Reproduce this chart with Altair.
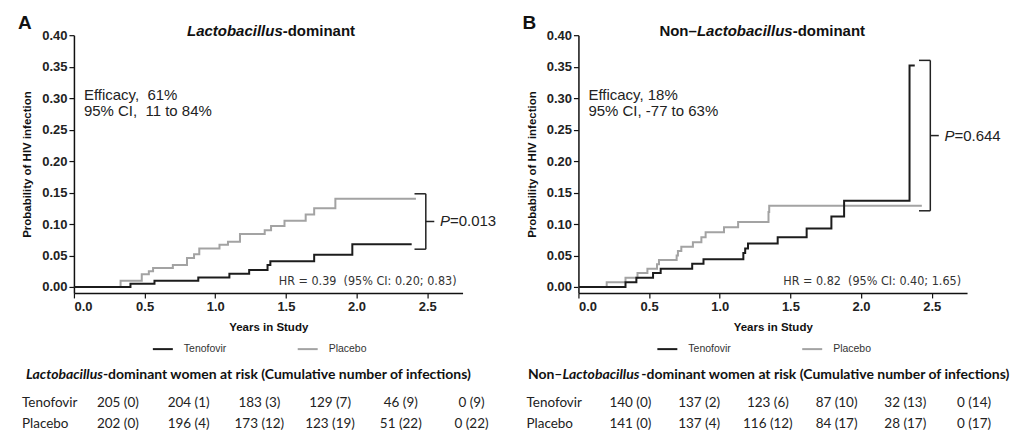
import altair as alt
import pandas as pd

# ---------------- data ----------------
ARMS = ["Tenofovir", "Placebo"]
X_TICKS = [0.0, 0.5, 1.0, 1.5, 2.0, 2.5]
Y_TICKS = [0.0, 0.05, 0.10, 0.15, 0.20, 0.25, 0.30, 0.35, 0.40]
TABLE_YEARS = [0.0, 0.5, 1.0, 1.5, 2.0, 2.5]

# Panel A: Lactobacillus-dominant (Kaplan-Meier steps)
A_TEN_T = [0, 0.40, 0.57, 0.88, 1.10, 1.24, 1.37, 1.39, 1.70, 1.97, 2.39]
A_TEN_P = [0, 0.005, 0.010, 0.015, 0.021, 0.027, 0.035, 0.041, 0.051, 0.068, 0.068]
A_PLA_T = [0, 0.33, 0.48, 0.53, 0.56, 0.70, 0.80, 0.85, 0.887, 1.03, 1.09, 1.175,
           1.35, 1.395, 1.49, 1.64, 1.70, 1.85, 2.42]
A_PLA_P = [0, 0.010, 0.020, 0.025, 0.030, 0.035, 0.046, 0.052, 0.061, 0.067, 0.072, 0.084,
           0.090, 0.097, 0.105, 0.115, 0.125, 0.140, 0.140]

# Panel B: Non-Lactobacillus-dominant
B_TEN_T = [0, 0.333, 0.41, 0.528, 0.582, 0.805, 0.885, 1.167, 1.18, 1.20, 1.41,
           1.615, 1.79, 1.88, 2.343, 2.38]
B_TEN_P = [0, 0.0074, 0.0147, 0.022, 0.029, 0.037, 0.044, 0.054, 0.061, 0.069, 0.079,
           0.093, 0.112, 0.137, 0.352, 0.352]
B_PLA_T = [0, 0.20, 0.333, 0.418, 0.488, 0.556, 0.57, 0.695, 0.704, 0.728, 0.81, 0.87,
           0.90, 1.03, 1.13, 1.345, 1.35, 2.43]
B_PLA_P = [0, 0.0074, 0.0147, 0.022, 0.029, 0.036, 0.043, 0.050, 0.057, 0.064, 0.071,
           0.079, 0.087, 0.095, 0.103, 0.119, 0.129, 0.129]

# Women at risk (cumulative infections)
A_TEN_N = [205, 204, 183, 129, 46, 0]
A_TEN_C = [0, 1, 3, 7, 9, 9]
A_PLA_N = [202, 196, 173, 123, 51, 0]
A_PLA_C = [0, 4, 12, 19, 22, 22]
B_TEN_N = [140, 137, 123, 87, 32, 0]
B_TEN_C = [0, 2, 6, 10, 13, 14]
B_PLA_N = [141, 137, 116, 84, 28, 0]
B_PLA_C = [0, 4, 12, 17, 17, 17]

NB = "\u00a0"
A_EFF = ["Efficacy," + NB + " 61%", "95% CI," + NB + " 11 to 84%"]
B_EFF = ["Efficacy, 18%", "95% CI, -77 to 63%"]
A_P = "=0.013"
B_P = "=0.644"
A_HR = "HR = 0.39 " + NB + "(95% CI: 0.20; 0.83)"
B_HR = "HR = 0.82 " + NB + "(95% CI: 0.40; 1.65)"

# ---------------- style ----------------
FONT = "Liberation Sans, Arial, sans-serif"
NARROW = "Liberation Sans Narrow, DejaVu Sans Condensed, sans-serif"
TFONT = "Lato, sans-serif"
W, H = 389, 258
DARK = "#1c1c1c"
GREY = "#a3a3a3"


def plot_panel(letter, title_parts, ten_t, ten_p, pla_t, pla_p, eff, p_rest, hr):
    ten = pd.DataFrame({"t": ten_t, "p": ten_p, "arm": "Tenofovir"})
    pla = pd.DataFrame({"t": pla_t, "p": pla_p, "arm": "Placebo"})
    x = alt.X("t:Q", scale=alt.Scale(domain=[0, 2.75], nice=False, zero=False),
              axis=alt.Axis(values=X_TICKS, format=".1f", title="Years in Study",
                            labelPadding=3, titlePadding=8, labelOverlap=False))
    y = alt.Y("p:Q", scale=alt.Scale(domain=[-0.0095, 0.40], nice=False, zero=False),
              axis=alt.Axis(values=Y_TICKS, format=".2f", title="Probability of HIV infection",
                            labelPadding=2, titlePadding=9, labelOverlap=False))
    color = alt.Color("arm:N", scale=alt.Scale(domain=ARMS, range=[DARK, GREY]),
                      legend=alt.Legend(orient="none", legendX=78, legendY=303,
                                        direction="horizontal", title=None,
                                        symbolType="stroke", symbolSize=400,
                                        symbolStrokeWidth=2, labelFont=FONT,
                                        labelFontSize=10.5, labelColor="#333",
                                        labelOffset=10, columnPadding=67))
    pla_line = alt.Chart(pla).mark_line(interpolate="step-after", strokeWidth=2).encode(x=x, y=y, color=color)
    ten_line = alt.Chart(ten).mark_line(interpolate="step-after", strokeWidth=2).encode(x=x, y=y, color=color)

    finals = [ten_p[-1], pla_p[-1]]
    yt = max(finals) + 0.008
    yb = min(finals) - 0.008
    ym = (yt + yb) / 2
    br = pd.DataFrame({
        "t": [2.49, 2.41, 2.41, 2.49],
        "t2": [2.49, 2.49, 2.49, 2.55],
        "p": [yb, yt, yb, ym],
        "p2": [yt, yt, yb, ym],
    })
    bracket = alt.Chart(br).mark_rule(color="#222", strokeWidth=1.5).encode(
        x=x, x2="t2:Q", y=y, y2="p2:Q")

    pdf = pd.DataFrame({"t": [2.59], "p": [ym]})
    p_it = alt.Chart(pdf).mark_text(align="left", baseline="middle", font=FONT, fontSize=15,
                                    fontStyle="italic", color="#222").encode(
        x=x, y=y, text=alt.value("P"))
    p_rg = alt.Chart(pdf).mark_text(align="left", baseline="middle", font=FONT, fontSize=15,
                                    dx=10, color="#222").encode(
        x=x, y=y, text=alt.value(p_rest))

    one = pd.DataFrame({"k": [0]})
    layers = [pla_line, ten_line, bracket, p_it, p_rg]
    # panel letter
    layers.append(alt.Chart(one).mark_text(align="left", baseline="alphabetic", font=FONT,
                                           fontSize=19, fontWeight="bold", color="#111").encode(
        x=alt.value(-56), y=alt.value(-6), text=alt.value(letter)))
    # panel title with mixed styles
    for txt, xpos, align, style in title_parts:
        layers.append(alt.Chart(one).mark_text(align=align, baseline="alphabetic", font=FONT,
                                               fontSize=15, fontWeight="bold", fontStyle=style,
                                               color="#111").encode(
            x=alt.value(xpos), y=alt.value(0.5), text=alt.value(txt)))
    # efficacy
    layers.append(alt.Chart(one).mark_text(align="left", baseline="alphabetic", font=FONT,
                                           fontSize=15, lineHeight=16, color="#222").encode(
        x=alt.value(10), y=alt.value(65), text=alt.value(eff)))
    # HR
    layers.append(alt.Chart(one).mark_text(align="right", baseline="middle", font=NARROW,
                                           fontSize=12.5, color="#333").encode(
        x=alt.value(383), y=alt.value(246), text=alt.value(hr)))
    return alt.layer(*layers).properties(width=W, height=H)


def table_panel(header_parts, ten_n, ten_c, pla_n, pla_c, xrange):
    rows = []
    for i, yr in enumerate(TABLE_YEARS):
        rows.append({"year": yr, "row": 0, "label": f"{ten_n[i]} ({ten_c[i]})"})
        rows.append({"year": yr, "row": 1, "label": f"{pla_n[i]} ({pla_c[i]})"})
    tdf = pd.DataFrame(rows)
    yscale = alt.Scale(domain=[0, 1], range=[38, 59])
    vals = alt.Chart(tdf).mark_text(font=TFONT, fontSize=13.5, color="#222", baseline="middle").encode(
        x=alt.X("year:Q", scale=alt.Scale(domain=[0, 2.5], range=xrange), axis=None),
        y=alt.Y("row:Q", scale=yscale, axis=None),
        text="label:N")
    labs = alt.Chart(pd.DataFrame({"arm": ARMS, "row": [0, 1]})).mark_text(
        font=TFONT, fontSize=13.5, color="#222", baseline="middle", align="left").encode(
        x=alt.value(-52), y=alt.Y("row:Q", scale=yscale, axis=None), text="arm:N")
    one = pd.DataFrame({"k": [0]})
    layers = [vals, labs]
    for txt, xpos, align, style in header_parts:
        layers.append(alt.Chart(one).mark_text(align=align, baseline="middle", font=TFONT,
                                               fontSize=14, fontWeight="bold", fontStyle=style,
                                               color="#111").encode(
            x=alt.value(xpos), y=alt.value(10), text=alt.value(txt)))
    return alt.layer(*layers).properties(width=W, height=60)


plotA = plot_panel("A",
                   [("Lactobacillus", 209, "right", "italic"), ("-dominant", 209, "left", "normal")],
                   A_TEN_T, A_TEN_P, A_PLA_T, A_PLA_P, A_EFF, A_P, A_HR)
plotB = plot_panel("B",
                   [("Non\u2013", 118.5, "right", "normal"), ("Lactobacillus", 166.5, "center", "italic"),
                    ("-dominant", 214.5, "left", "normal")],
                   B_TEN_T, B_TEN_P, B_PLA_T, B_PLA_P, B_EFF, B_P, B_HR)

tableA = table_panel([("Lactobacillus", 29, "right", "italic"),
                      ("-dominant women at risk (Cumulative number of infections)", 29, "left", "normal")],
                     A_TEN_N, A_TEN_C, A_PLA_N, A_PLA_C, [44, 398])
tableB = table_panel([("Non\u2013", -16, "right", "normal"), ("Lactobacillus", -16, "left", "italic"),
                      ("-dominant women at risk (Cumulative number of infections)", 63, "left", "normal")],
                     B_TEN_N, B_TEN_C, B_PLA_N, B_PLA_C, [52, 396])

chart = alt.concat(plotA, plotB, tableA, tableB, columns=2,
                   spacing={"row": 72, "column": 116}, bounds="flush").resolve_scale(
    color="independent", x="independent", y="independent"
).resolve_legend(color="independent").properties(
    padding={"left": 10, "top": 6, "right": 5, "bottom": 5}
).configure_view(stroke=None).configure_axis(
    grid=False, domainColor="#111", domainWidth=1.5, tickColor="#111", tickSize=5,
    tickWidth=1.2, labelFont=FONT, labelFontWeight="bold", labelFontSize=13,
    labelColor="#222", titleFont=FONT, titleFontWeight="bold", titleFontSize=11.5,
    titleColor="#111"
)

chart.save("out.html", embed_options={"renderer": "svg", "actions": False})
